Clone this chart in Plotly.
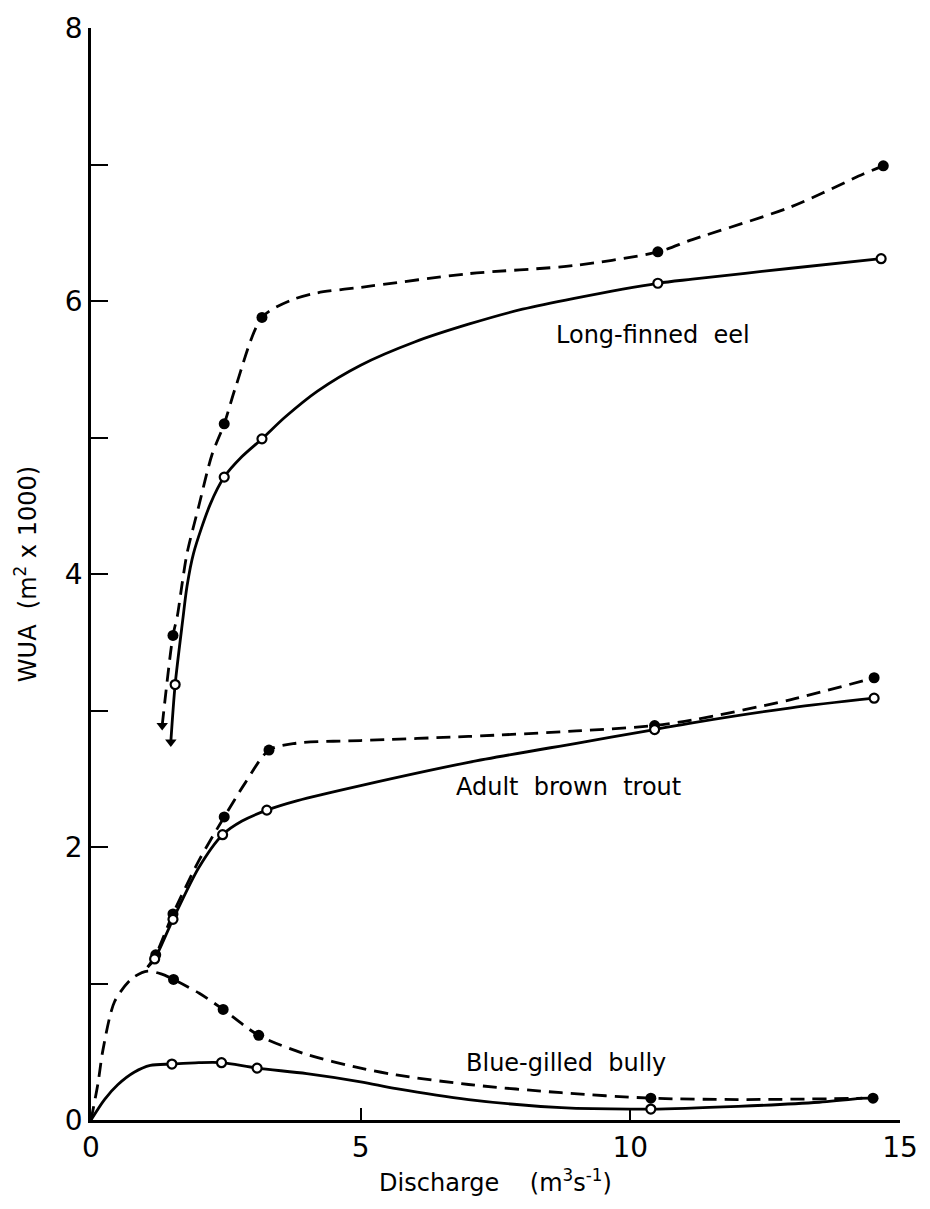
import plotly.graph_objects as go

# ---------------- data ----------------
# Long-finned eel
eel_fill_x = [1.52, 2.47, 3.17, 10.51, 14.69]
eel_fill_y = [3.55, 5.10, 5.88, 6.36, 6.99]
eel_open_x = [1.56, 2.47, 3.17, 10.51, 14.65]
eel_open_y = [3.19, 4.71, 4.99, 6.13, 6.31]
eel_dash_cx = [1.32, 1.52, 1.60, 1.69, 1.78, 2.0, 2.24, 2.47, 2.69, 3.17, 3.74, 4.2, 5.0, 7.0, 8.96, 10.51, 11.15, 12.98, 14.32, 14.69]
eel_dash_cy = [2.89, 3.55, 3.69, 3.93, 4.15, 4.5, 4.87, 5.10, 5.38, 5.88, 6.01, 6.06, 6.10, 6.20, 6.26, 6.36, 6.45, 6.69, 6.93, 6.99]
eel_solid_cx = [1.48, 1.56, 1.70, 1.78, 1.90, 2.21, 2.47, 2.8, 3.17, 3.6, 4.2, 5.0, 6.0, 7.0, 8.0, 8.96, 10.51, 11.15, 12.98, 14.65]
eel_solid_cy = [2.77, 3.19, 3.66, 3.91, 4.15, 4.51, 4.71, 4.86, 4.99, 5.15, 5.34, 5.53, 5.70, 5.83, 5.94, 6.02, 6.13, 6.16, 6.24, 6.31]

# Adult brown trout
trout_fill_x = [1.20, 1.52, 2.47, 3.30, 10.45, 14.52]
trout_fill_y = [1.21, 1.51, 2.22, 2.71, 2.89, 3.24]
trout_open_x = [1.18, 1.52, 2.44, 3.26, 10.45, 14.52]
trout_open_y = [1.18, 1.47, 2.09, 2.27, 2.86, 3.09]
trout_dash_cx = [1.05, 1.20, 1.52, 2.0, 2.47, 2.86, 3.30, 3.8, 5.0, 7.0, 9.0, 10.45, 11.15, 12.98, 14.52]
trout_dash_cy = [1.12, 1.21, 1.51, 1.90, 2.22, 2.47, 2.71, 2.76, 2.78, 2.81, 2.85, 2.89, 2.93, 3.08, 3.24]
trout_solid_cx = [1.05, 1.18, 1.52, 2.0, 2.44, 2.8, 3.26, 3.83, 5.0, 7.0, 9.0, 10.45, 11.15, 12.98, 14.52]
trout_solid_cy = [1.12, 1.18, 1.47, 1.85, 2.09, 2.19, 2.27, 2.34, 2.45, 2.62, 2.76, 2.86, 2.91, 3.02, 3.09]

# Blue-gilled bully
bully_fill_x = [1.53, 2.45, 3.11, 10.38, 14.50]
bully_fill_y = [1.03, 0.81, 0.62, 0.16, 0.16]
bully_open_x = [1.50, 2.42, 3.08, 10.38]
bully_open_y = [0.41, 0.42, 0.38, 0.08]
bully_dash_cx = [0.0, 0.13, 0.22, 0.44, 0.77, 1.05, 1.3, 1.53, 2.0, 2.45, 3.11, 4.0, 5.0, 5.66, 7.0, 8.72, 10.38, 12.0, 14.5]
bully_dash_cy = [0.0, 0.27, 0.51, 0.87, 1.04, 1.09, 1.07, 1.03, 0.93, 0.81, 0.62, 0.48, 0.38, 0.33, 0.26, 0.20, 0.16, 0.15, 0.16]
bully_solid_cx = [0.0, 0.25, 0.5, 0.8, 1.1, 1.5, 2.0, 2.42, 3.08, 4.0, 5.0, 5.66, 7.0, 8.72, 10.38, 12.0, 13.5, 14.3]
bully_solid_cy = [0.0, 0.15, 0.26, 0.35, 0.40, 0.41, 0.42, 0.42, 0.38, 0.34, 0.28, 0.23, 0.15, 0.09, 0.08, 0.10, 0.13, 0.16]

# arrow tips (lower end of the eel curves)
arrow_x = [eel_dash_cx[0], eel_solid_cx[0]]
arrow_y = [eel_dash_cy[0], eel_solid_cy[0]]

species_labels = ["Long-finned  eel", "Adult  brown  trout", "Blue-gilled  bully"]
label_x = [10.42, 8.85, 8.8]
label_y = [5.75, 2.44, 0.42]

y_ticks = [0, 2, 4, 6, 8]
x_ticks = [0, 5, 10, 15]

# ---------------- figure ----------------
FONT = "DejaVu Sans"
DASH = "14px,8px"
LW = 2.8

fig = go.Figure()

def curve(x, y, dashed):
    fig.add_trace(go.Scatter(
        x=x, y=y, mode="lines", line_shape="spline",
        line=dict(color="black", width=LW, dash=DASH if dashed else "solid", smoothing=0.8),
        cliponaxis=False, showlegend=False, hoverinfo="skip"))

def marks(x, y, filled):
    fig.add_trace(go.Scatter(
        x=x, y=y, mode="markers", cliponaxis=False, showlegend=False,
        marker=dict(symbol="circle",
                    size=11 if filled else 9,
                    color="black" if filled else "white",
                    line=dict(color="black", width=0 if filled else 2.2))))

curve(eel_dash_cx, eel_dash_cy, True)
curve(eel_solid_cx, eel_solid_cy, False)
curve(trout_dash_cx, trout_dash_cy, True)
curve(trout_solid_cx, trout_solid_cy, False)
curve(bully_dash_cx, bully_dash_cy, True)
curve(bully_solid_cx, bully_solid_cy, False)

marks(eel_fill_x, eel_fill_y, True)
marks(eel_open_x, eel_open_y, False)
marks(trout_fill_x, trout_fill_y, True)
marks(trout_open_x, trout_open_y, False)
marks(bully_fill_x, bully_fill_y, True)
marks(bully_open_x, bully_open_y, False)

fig.add_trace(go.Scatter(
    x=arrow_x, y=arrow_y, mode="markers", cliponaxis=False, showlegend=False,
    marker=dict(symbol="triangle-down", size=10, color="black")))

for t, lx, ly in zip(species_labels, label_x, label_y):
    fig.add_annotation(x=lx, y=ly, text=t, showarrow=False,
                       font=dict(family=FONT, size=24, color="black"))

fig.update_layout(
    width=930, height=1209,
    margin=dict(l=91, r=21, t=20, b=89),
    paper_bgcolor="white", plot_bgcolor="white",
    font=dict(family=FONT, color="black"),
    showlegend=False,
)
fig.update_xaxes(
    range=[0, 15], tickvals=x_ticks, ticktext=[str(v) for v in x_ticks],
    showgrid=False, zeroline=False, showline=True, linecolor="black", linewidth=2.8,
    ticks="inside", ticklen=12, tickwidth=1.6, tickcolor="black",
    tickfont=dict(family=FONT, size=28),
    title=dict(text="Discharge    (m<sup>3</sup>s<sup>-1</sup>)", font=dict(family=FONT, size=24), standoff=12),
)
fig.update_yaxes(
    range=[0, 8], tickvals=y_ticks, ticktext=[str(v) for v in y_ticks],
    showgrid=False, zeroline=False, showline=True, linecolor="black", linewidth=2.8,
    ticks="inside", ticklen=17, tickwidth=1.6, tickcolor="black",
    minor=dict(dtick=1, tick0=0, ticks="inside", ticklen=17, tickwidth=1.6, tickcolor="black"),
    tickfont=dict(family=FONT, size=28),
    title=dict(text="WUA  (m<sup>2</sup> x 1000)", font=dict(family=FONT, size=24), standoff=22),
)

fig.write_html("out.html")
